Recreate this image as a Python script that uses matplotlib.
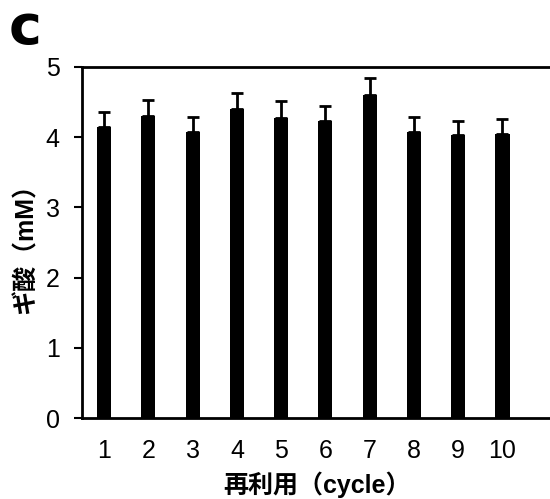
import matplotlib
matplotlib.use("Agg")
import matplotlib.pyplot as plt

cycles = ["1", "2", "3", "4", "5", "6", "7", "8", "9", "10"]
formic_mM = [4.15, 4.30, 4.08, 4.40, 4.28, 4.23, 4.60, 4.08, 4.03, 4.05]
err_mM = [0.21, 0.23, 0.21, 0.23, 0.23, 0.21, 0.25, 0.21, 0.20, 0.21]
yticks = [0, 1, 2, 3, 4, 5]

fam = ['Liberation Sans', 'Noto Sans CJK JP', 'DejaVu Sans']
plt.rcParams['font.family'] = fam

fig = plt.figure(figsize=(5.5, 4.99), dpi=100)
ax = fig.add_axes([82/550, 81/499, 1 - 82/550 + 0.002, (418-67)/499])

x = list(range(1, len(cycles) + 1))
ax.bar(x, formic_mM, width=0.32, color='black', zorder=2)
ax.errorbar(x, formic_mM, yerr=[[0]*len(x), err_mM], fmt='none', ecolor='black',
            elinewidth=2, capsize=4, capthick=2, zorder=1)

ax.set_xlim(0.5, 11.1)
ax.set_ylim(0, 5)
ax.set_yticks(yticks)
ax.set_xticks(x)
ax.set_xticklabels(cycles)
ax.tick_params(axis='x', length=0, pad=15, labelsize=18)
ax.tick_params(axis='y', length=6, width=1.5, direction='out', pad=10, labelsize=18)
for s in ['left', 'bottom', 'top']:
    ax.spines[s].set_linewidth(2)
ax.spines['right'].set_visible(False)

ax.set_xlabel('再利用（cycle）', fontsize=18, fontweight='bold', family=fam, labelpad=6)
ax.set_ylabel('ギ酸（mM）', fontsize=18, fontweight='bold', family=fam, labelpad=6)

fig.text(9/550, 1 - 44/499, 'c', fontsize=40, fontweight='heavy', family=['DejaVu Sans'])

fig.savefig('out.png', dpi=100)
